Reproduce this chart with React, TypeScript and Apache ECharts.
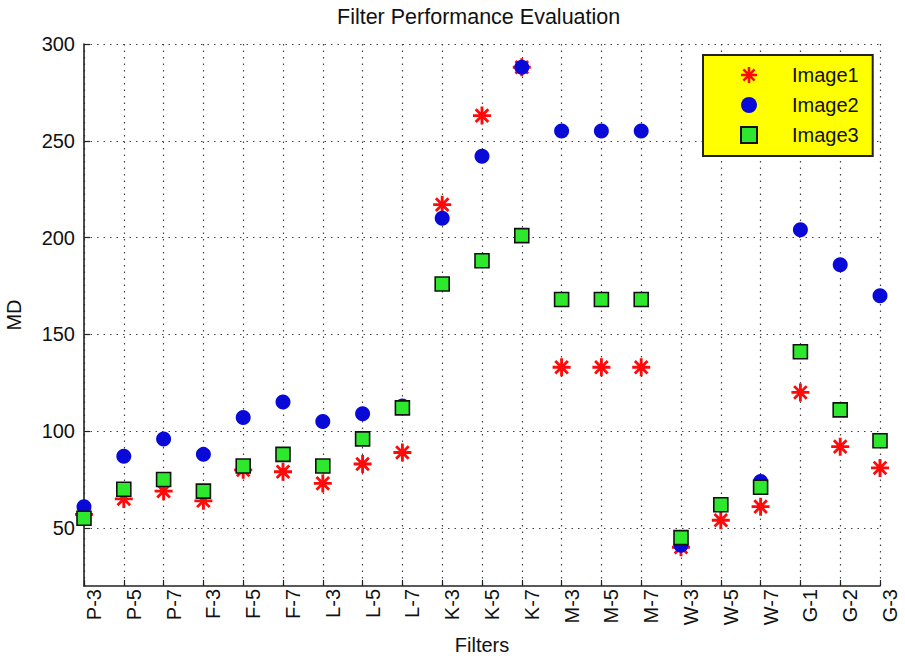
import React, { useEffect, useRef } from 'react';
import * as echarts from 'echarts';

const categories = ['P-3', 'P-5', 'P-7', 'F-3', 'F-5', 'F-7', 'L-3', 'L-5', 'L-7', 'K-3', 'K-5', 'K-7', 'M-3', 'M-5', 'M-7', 'W-3', 'W-5', 'W-7', 'G-1', 'G-2', 'G-3'];
const image1 = [57, 65, 69, 64, 80, 79, 73, 83, 89, 217, 263, 288, 133, 133, 133, 40, 54, 61, 120, 92, 81];
const image2 = [61, 87, 96, 88, 107, 115, 105, 109, 113, 210, 242, 288, 255, 255, 255, 41, 62, 74, 204, 186, 170];
const image3 = [55, 70, 75, 69, 82, 88, 82, 96, 112, 176, 188, 201, 168, 168, 168, 45, 62, 71, 141, 111, 95];
const yTicks = [50, 100, 150, 200, 250, 300];
const seriesNames = ['Image1', 'Image2', 'Image3'];

const FONT = '"Liberation Sans", Arial, Helvetica, sans-serif';
const ASTERISK =
  'path://M0,8.4L20,8.4L20,11.6L0,11.6Z M8.4,0L11.6,0L11.6,20L8.4,20Z M4.1,1.9L18.1,15.9L15.9,18.1L1.9,4.1Z M18.1,4.1L4.1,18.1L1.9,15.9L15.9,1.9Z';

export default function App() {
  const ref = useRef<HTMLDivElement>(null);
  useEffect(() => {
    if (!ref.current) return;
    const chart = echarts.init(ref.current, null, { renderer: 'svg' });
    const gridLine = { show: true, lineStyle: { type: [1.5, 5] as any, color: '#444', width: 1.2 } };
    chart.setOption({
      animation: false,
      backgroundColor: '#ffffff',
      textStyle: { fontFamily: FONT },
      title: {
        text: 'Filter Performance Evaluation',
        left: 337,
        top: 6,
        padding: 0,
        textStyle: { fontSize: 21.5, fontWeight: 'normal', color: '#111', fontFamily: FONT },
      },
      legend: {
        orient: 'vertical',
        left: 703,
        top: 55,
        backgroundColor: '#ffff00',
        borderColor: '#222',
        borderWidth: 2,
        borderRadius: 0,
        padding: [10, 14, 11, 37],
        itemWidth: 16,
        itemHeight: 16,
        itemGap: 10,
        data: seriesNames,
        formatter: (n: string) => '{g| }' + n,
        textStyle: { fontSize: 20, color: '#111', fontFamily: FONT, rich: { g: { width: 30 } } },
      },
      grid: { left: 84, right: 25, top: 44, bottom: 72, containLabel: false, outerBoundsMode: 'none' },
      xAxis: {
        type: 'category',
        data: categories,
        boundaryGap: false,
        name: 'Filters',
        nameLocation: 'middle',
        nameGap: 49,
        nameTextStyle: { fontSize: 20, color: '#111', fontFamily: FONT },
        axisLine: { show: true, lineStyle: { color: '#222', width: 1.6 } },
        axisTick: { show: true, inside: true, length: 6, lineStyle: { color: '#222', width: 1.2 } },
        axisLabel: { rotate: 90, interval: 0, margin: 3, verticalAlign: 'top', fontSize: 20, color: '#111', fontFamily: FONT },
        splitLine: gridLine,
      },
      yAxis: {
        type: 'value',
        min: 20,
        max: 300,
        name: 'MD',
        nameLocation: 'middle',
        nameGap: 60,
        nameTextStyle: { fontSize: 20, color: '#111', fontFamily: FONT },
        axisLine: { show: true, lineStyle: { color: '#222', width: 1.6 } },
        axisTick: { show: true, inside: true, length: 6, customValues: yTicks, lineStyle: { color: '#222', width: 1.2 } },
        axisLabel: { customValues: yTicks, margin: 9, fontSize: 20, color: '#111', fontFamily: FONT },
        splitLine: gridLine,
      },
      series: [
        {
          name: seriesNames[0],
          type: 'scatter',
          data: image1,
          symbol: ASTERISK,
          symbolSize: 18,
          itemStyle: { color: '#ff0a0a', opacity: 1 },
        },
        {
          name: seriesNames[1],
          type: 'scatter',
          data: image2,
          symbol: 'circle',
          symbolSize: 15,
          itemStyle: { color: '#0a0ad8', opacity: 1 },
        },
        {
          name: seriesNames[2],
          type: 'scatter',
          data: image3,
          symbol: 'rect',
          symbolSize: 14,
          itemStyle: { color: '#2ee82e', borderColor: '#111', borderWidth: 1.6, opacity: 1 },
        },
      ],
    });
    return () => chart.dispose();
  }, []);
  return <div ref={ref} style={{ position: 'fixed', left: 0, top: 0, width: 905, height: 658 }} />;
}
